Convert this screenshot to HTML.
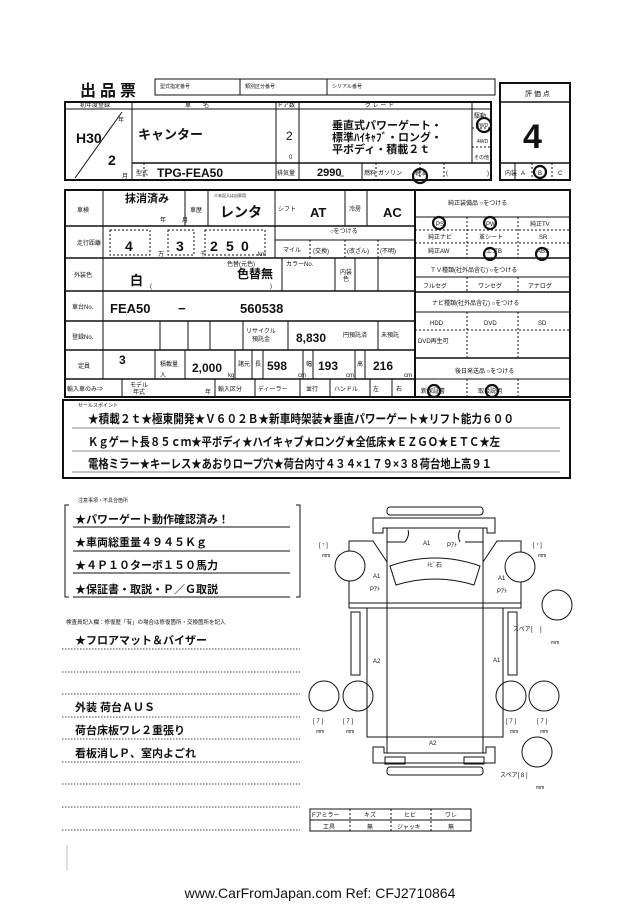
<!DOCTYPE html>
<html><head><meta charset="utf-8"><style>
html,body{margin:0;padding:0;background:#fff;width:640px;height:904px;overflow:hidden}
svg{display:block;font-family:"Liberation Sans","Noto Sans CJK JP",sans-serif}
</style></head><body>
<svg width="640" height="904" viewBox="0 0 640 904" xmlns="http://www.w3.org/2000/svg">
<g fill="none" stroke="#111" stroke-width="1">
<!-- header small boxes -->
<rect x="155" y="79" width="340" height="16"/>
<line x1="240" y1="79" x2="240" y2="95"/><line x1="327" y1="79" x2="327" y2="95"/>
<!-- score box -->
<rect x="500" y="83" width="70" height="97" stroke-width="2"/>
<line x1="500" y1="102" x2="570" y2="102" stroke-width="1.5"/>
<line x1="500" y1="163" x2="570" y2="163" stroke-width="1.5"/>
<line x1="515" y1="163" x2="515" y2="180"/><line x1="532" y1="163" x2="532" y2="180" stroke-dasharray="2,2"/><line x1="552" y1="163" x2="552" y2="180" stroke-dasharray="2,2"/>
<!-- top table -->
<rect x="65" y="102" width="426" height="78" stroke-width="2"/>
<line x1="65" y1="109" x2="491" y2="109"/>
<line x1="132" y1="102" x2="132" y2="180"/>
<line x1="276" y1="102" x2="276" y2="180"/>
<line x1="299" y1="102" x2="299" y2="163"/>
<line x1="472" y1="102" x2="472" y2="163"/>
<line x1="132" y1="163" x2="491" y2="163" stroke-width="1.5"/>
<line x1="144" y1="163" x2="144" y2="180" stroke-dasharray="2,2"/>
<line x1="299" y1="163" x2="299" y2="180"/>
<line x1="362" y1="163" x2="362" y2="180"/>
<line x1="376" y1="163" x2="376" y2="180" stroke-dasharray="2,2"/>
<line x1="420" y1="163" x2="420" y2="180" stroke-dasharray="2,2"/>
<line x1="444" y1="163" x2="444" y2="180" stroke-dasharray="2,2"/>
<line x1="472" y1="128" x2="491" y2="128" stroke-dasharray="2,2"/>
<line x1="472" y1="147" x2="491" y2="147" stroke-dasharray="2,2"/>
<line x1="75" y1="178" x2="122" y2="112"/>
<!-- main table left -->
<rect x="65" y="190" width="350" height="207" stroke-width="2"/>
<line x1="103" y1="190" x2="103" y2="379"/>
<line x1="65" y1="226" x2="415" y2="226" stroke-width="1.5"/>
<line x1="65" y1="258" x2="415" y2="258" stroke-width="1.5"/>
<line x1="65" y1="291" x2="415" y2="291" stroke-width="1.5"/>
<line x1="65" y1="321" x2="415" y2="321" stroke-width="1.5"/>
<line x1="65" y1="350" x2="415" y2="350" stroke-width="1.5"/>
<line x1="65" y1="379" x2="415" y2="379" stroke-width="1.5"/>
<line x1="185" y1="190" x2="185" y2="226"/><line x1="208" y1="190" x2="208" y2="226"/>
<line x1="275" y1="190" x2="275" y2="226"/><line x1="345" y1="190" x2="345" y2="226"/><line x1="367" y1="190" x2="367" y2="226"/>
<line x1="275" y1="226" x2="275" y2="258"/>
<line x1="275" y1="240" x2="415" y2="240"/>
<line x1="310" y1="240" x2="310" y2="258" stroke-dasharray="2,2"/><line x1="345" y1="240" x2="345" y2="258" stroke-dasharray="2,2"/><line x1="378" y1="240" x2="378" y2="258" stroke-dasharray="2,2"/>
<g stroke-dasharray="2,2"><rect x="110" y="230" width="40" height="25"/><rect x="168" y="230" width="26" height="25"/><rect x="205" y="230" width="60" height="25"/></g>
<line x1="282" y1="258" x2="282" y2="291"/><line x1="335" y1="258" x2="335" y2="291"/><line x1="355" y1="258" x2="355" y2="291"/><line x1="378" y1="258" x2="378" y2="291"/>
<line x1="160" y1="321" x2="160" y2="350"/><line x1="188" y1="321" x2="188" y2="350"/><line x1="210" y1="321" x2="210" y2="350"/><line x1="243" y1="321" x2="243" y2="350"/><line x1="288" y1="321" x2="288" y2="350"/><line x1="378" y1="321" x2="378" y2="350"/>
<line x1="155" y1="350" x2="155" y2="379"/><line x1="185" y1="350" x2="185" y2="379"/><line x1="235" y1="350" x2="235" y2="379"/><line x1="252" y1="350" x2="252" y2="379"/><line x1="263" y1="350" x2="263" y2="379"/><line x1="303" y1="350" x2="303" y2="379"/><line x1="313" y1="350" x2="313" y2="379"/><line x1="355" y1="350" x2="355" y2="379"/><line x1="365" y1="350" x2="365" y2="379"/>
<line x1="122" y1="379" x2="122" y2="397"/><line x1="215" y1="379" x2="215" y2="397"/><line x1="255" y1="379" x2="255" y2="397"/><line x1="300" y1="379" x2="300" y2="397"/><line x1="330" y1="379" x2="330" y2="397"/><line x1="370" y1="379" x2="370" y2="397"/><line x1="392" y1="379" x2="392" y2="397"/>
<!-- right block -->
<rect x="415" y="190" width="155" height="207" stroke-width="2"/>
<line x1="415" y1="217" x2="570" y2="217"/>
<line x1="415" y1="230" x2="570" y2="230" stroke-dasharray="2,2"/>
<line x1="415" y1="243" x2="570" y2="243" stroke-dasharray="2,2"/>
<line x1="415" y1="258" x2="570" y2="258" stroke-width="1.5"/>
<line x1="415" y1="277" x2="570" y2="277"/>
<line x1="415" y1="292" x2="570" y2="292" stroke-width="1.5"/>
<line x1="415" y1="312" x2="570" y2="312"/>
<line x1="415" y1="330" x2="570" y2="330" stroke-dasharray="2,2"/>
<line x1="415" y1="358" x2="570" y2="358" stroke-width="1.5"/>
<line x1="415" y1="379" x2="570" y2="379"/>
<g stroke-dasharray="2,2">
<line x1="467" y1="217" x2="467" y2="258"/><line x1="518" y1="217" x2="518" y2="258"/>
<line x1="467" y1="277" x2="467" y2="292"/><line x1="518" y1="277" x2="518" y2="292"/>
<line x1="467" y1="312" x2="467" y2="358"/><line x1="518" y1="312" x2="518" y2="358"/>
<line x1="467" y1="379" x2="467" y2="397"/><line x1="518" y1="379" x2="518" y2="397"/></g>
<!-- sales -->
<rect x="63" y="400" width="507" height="78" stroke-width="2"/>
<line x1="72" y1="428" x2="560" y2="428" stroke="#888"/><line x1="72" y1="451" x2="560" y2="451" stroke="#888"/><line x1="72" y1="472" x2="560" y2="472" stroke="#888"/>
<!-- circles marks -->
<g stroke-width="2.2"><circle cx="484" cy="125" r="7"/><circle cx="420" cy="176" r="7"/><circle cx="540" cy="172" r="6"/>
<circle cx="439" cy="223" r="6"/><circle cx="490" cy="223" r="6"/><circle cx="490" cy="254" r="6"/><circle cx="542" cy="254" r="6"/><circle cx="434" cy="391" r="6"/><circle cx="492" cy="391" r="6"/></g>
<!-- notes bracket -->
<path d="M69 505 H65 V597 H69"/><path d="M296 505 H300 V597 H296"/>
<line x1="73" y1="527" x2="290" y2="527"/><line x1="73" y1="551" x2="290" y2="551"/><line x1="73" y1="573" x2="290" y2="573"/><line x1="73" y1="597" x2="290" y2="597"/>
<g stroke-dasharray="1.5,1.5" stroke="#444"><line x1="62" y1="649" x2="300" y2="649"/><line x1="62" y1="672" x2="300" y2="672"/><line x1="62" y1="694" x2="300" y2="694"/><line x1="62" y1="717" x2="300" y2="717"/><line x1="62" y1="739" x2="300" y2="739"/><line x1="62" y1="762" x2="300" y2="762"/><line x1="62" y1="784" x2="300" y2="784"/><line x1="62" y1="807" x2="300" y2="807"/><line x1="62" y1="830" x2="300" y2="830"/></g>
<line x1="67" y1="845" x2="67" y2="870" stroke="#bbb"/>
<!-- car -->
<rect x="387" y="507" width="96" height="8" rx="3"/>
<path d="M373 518 H495 V533 H487 V528 H383 V533 H373 Z"/>
<rect x="387" y="528" width="96" height="225"/>
<line x1="387" y1="542" x2="405" y2="542"/><path d="M405 542 Q410 535 408 530"/>
<line x1="465" y1="542" x2="483" y2="542"/><path d="M460 542 Q457 536 460 530"/>
<path d="M390 566 Q435 550 480 566 L474 585 Q435 573 396 585 Z"/>
<path d="M349 541 H373 L387 562 V603 H349 Z"/>
<path d="M521 541 H497 L483 562 V603 H521 Z"/>
<line x1="349" y1="603" x2="521" y2="603"/>
<rect x="349" y="603" width="172" height="5"/>
<path d="M367 608 V737 H503 V608"/>
<rect x="351" y="612" width="9" height="63"/><rect x="508" y="612" width="9" height="63"/>
<path d="M373 747 H384 V753 H486 V747 H495 V763 H373 Z"/>
<rect x="385" y="757" width="20" height="7"/><rect x="464" y="757" width="20" height="7"/>
<rect x="387" y="767" width="96" height="8" rx="3"/>
<g fill="#fff"><circle cx="350" cy="566" r="15"/><circle cx="520" cy="567" r="15"/></g>
<circle cx="557" cy="605" r="15"/>
<circle cx="324" cy="696" r="15"/><circle cx="358" cy="696" r="15"/><circle cx="511" cy="696" r="15"/><circle cx="544" cy="696" r="15"/>
<circle cx="537" cy="752" r="15"/>
<rect x="310" y="809" width="161" height="22"/><line x1="310" y1="820" x2="471" y2="820"/>
<line x1="350" y1="809" x2="350" y2="831" stroke-dasharray="2,2"/><line x1="391" y1="809" x2="391" y2="831" stroke-dasharray="2,2"/><line x1="431" y1="809" x2="431" y2="831" stroke-dasharray="2,2"/>
</g>
<g fill="#111">
<text x="80" y="96" font-size="16" font-weight="bold" letter-spacing="4">出品票</text>
<g font-size="5"><text x="160" y="88">型式指定番号</text><text x="245" y="88">類別区分番号</text><text x="332" y="88">シリアル番号</text></g>
<text x="525" y="96" font-size="7">評 価 点</text>
<text x="523" y="148" font-size="34" font-weight="bold">4</text>
<g font-size="6"><text x="505" y="175">内装</text><text x="521" y="175">A</text><text x="538" y="175">B</text><text x="558" y="175">C</text></g>
<g font-size="6"><text x="80" y="107">初年度登録</text><text x="185" y="107">車　　名</text><text x="277" y="107">ドア数</text><text x="365" y="107">グ レ ー ド</text><text x="474" y="118">駆動</text><text x="477" y="127" font-size="5">2WD</text><text x="477" y="143" font-size="5">4WD</text><text x="474" y="159" font-size="5">その他</text>
<text x="118" y="122">年</text><text x="122" y="178">月</text><text x="136" y="175">型式</text><text x="277" y="175">排気量</text><text x="340" y="177" font-size="4">cc</text><text x="364" y="175">燃料</text><text x="378" y="175">ガソリン</text><text x="415" y="175">軽油</text><text x="446" y="175">(</text><text x="487" y="175">)</text></g>
<text x="76" y="143" font-size="14" font-weight="bold">H30</text>
<text x="108" y="165" font-size="14" font-weight="bold">2</text>
<text x="138" y="139" font-size="13" font-weight="bold">キャンター</text>
<text x="286" y="140" font-size="12">2</text><text x="289" y="159" font-size="6">0</text>
<g font-size="11" font-weight="bold"><text x="332" y="129">垂直式パワーゲート・</text><text x="332" y="141">標準ﾊｲｷｬﾌﾞ・ロング・</text><text x="332" y="153">平ボディ・積載２ｔ</text></g>
<text x="157" y="177" font-size="12" font-weight="bold">TPG-FEA50</text>
<text x="317" y="176" font-size="11" font-weight="bold">2990</text>
<g font-size="6">
<text x="77" y="212">車検</text><text x="77" y="245">走行距離</text><text x="74" y="277">外装色</text><text x="72" y="309">車台No.</text><text x="72" y="339">登録No.</text><text x="78" y="368">定員</text><text x="67" y="391">輸入車のみ⇒</text>
<text x="160" y="222">年</text><text x="182" y="222">月</text><text x="190" y="212">車歴</text><text x="214" y="197" font-size="4">※未記入は自家用</text><text x="278" y="211">シフト</text><text x="349" y="211">冷房</text>
<text x="330" y="233">○をつける</text><text x="283" y="252">マイル</text><text x="313" y="253">(交換)</text><text x="347" y="253">(改ざん)</text><text x="380" y="253">(不明)</text>
<text x="158" y="256">万</text><text x="200" y="256">千</text><text x="258" y="256">km</text>
<text x="227" y="266">色替(元色)</text><text x="150" y="288">(</text><text x="270" y="288">)</text><text x="286" y="266">カラーNo.</text><text x="340" y="274">内装</text><text x="343" y="281">色</text>
<text x="246" y="333">リサイクル</text><text x="252" y="341">預託金</text><text x="343" y="337">円預託済</text><text x="381" y="337">未預託</text>
<text x="160" y="377">人</text><text x="160" y="366">積載量</text><text x="228" y="377">kg</text><text x="238" y="366">諸元</text><text x="255" y="366">長</text><text x="298" y="377">cm</text><text x="306" y="366">幅</text><text x="346" y="377">cm</text><text x="357" y="366">高</text><text x="404" y="377">cm</text>
<text x="130" y="387">モデル</text><text x="133" y="394">年式</text><text x="205" y="394">年</text><text x="218" y="391">輸入区分</text><text x="258" y="391">ディーラー</text><text x="306" y="391">並行</text><text x="334" y="391">ハンドル</text><text x="373" y="391">左</text><text x="396" y="391">右</text>
<text x="448" y="205">純正装備品 ○をつける</text><text x="436" y="226">PS</text><text x="486" y="226">PW</text><text x="530" y="226">純正TV</text>
<text x="428" y="239">純正ナビ</text><text x="479" y="239">革シート</text><text x="539" y="239">SR</text>
<text x="428" y="253">純正AW</text><text x="486" y="253">エアB</text><text x="537" y="253">ABS</text>
<text x="430" y="272">ＴＶ種類(社外品含む) ○をつける</text><text x="423" y="288">フルセグ</text><text x="478" y="288">ワンセグ</text><text x="528" y="288">アナログ</text>
<text x="432" y="305">ナビ種類(社外品含む) ○をつける</text><text x="430" y="325">HDD</text><text x="484" y="325">DVD</text><text x="538" y="325">SD</text><text x="418" y="343">DVD再生可</text>
<text x="455" y="373">後日発送品 ○をつける</text><text x="421" y="393">新保証書</text><text x="478" y="393">取扱説明</text>
</g>
<g font-size="11" font-weight="bold"><text x="125" y="202">抹消済み</text><text x="220" y="217" font-size="14">レンタ</text><text x="310" y="217" font-size="13">AT</text><text x="383" y="217" font-size="13">AC</text>
<text x="125" y="251" font-size="14">4</text><text x="176" y="251" font-size="14">3</text><text x="210" y="251" font-size="14">2</text><text x="226" y="251" font-size="14">5</text><text x="241" y="251" font-size="14">0</text>
<text x="130" y="285" font-size="13">白</text><text x="237" y="278" font-size="12">色替無</text>
<text x="110" y="313" font-size="13">FEA50</text><text x="178" y="313" font-size="13">−</text><text x="240" y="313" font-size="13">560538</text>
<text x="296" y="342" font-size="12">8,830</text><text x="119" y="364" font-size="12">3</text><text x="192" y="372" font-size="12">2,000</text><text x="267" y="370" font-size="12">598</text><text x="318" y="370" font-size="12">193</text><text x="373" y="370" font-size="12">216</text></g>
<text x="78" y="407" font-size="5">セールスポイント</text>
<g font-size="12" font-weight="bold"><text x="88" y="423" textLength="426" lengthAdjust="spacingAndGlyphs">★積載２ｔ★極東開発★Ｖ６０２Ｂ★新車時架装★垂直パワーゲート★リフト能力６００</text>
<text x="88" y="446" textLength="412" lengthAdjust="spacingAndGlyphs">Ｋｇゲート長８５ｃｍ★平ボディ★ハイキャブ★ロング★全低床★ＥＺＧＯ★ＥＴＣ★左</text>
<text x="88" y="468" textLength="404" lengthAdjust="spacingAndGlyphs">電格ミラー★キーレス★あおりロープ穴★荷台内寸４３４×１７９×３８荷台地上高９１</text></g>
<text x="78" y="502" font-size="5">注意事項・不具合箇所</text>
<g font-size="11" font-weight="bold"><text x="75" y="523">★パワーゲート動作確認済み！</text><text x="75" y="546">★車両総重量４９４５Ｋｇ</text><text x="75" y="569">★４Ｐ１０ターボ１５０馬力</text><text x="75" y="593">★保証書・取説・Ｐ／Ｇ取説</text>
<text x="75" y="644">★フロアマット＆バイザー</text><text x="75" y="711">外装 荷台ＡＵＳ</text><text x="75" y="734">荷台床板ワレ２重張り</text><text x="75" y="757">看板消しＰ、室内よごれ</text></g>
<text x="66" y="624" font-size="5.5">検査員記入欄：修復歴「有」の場合は修復箇所・交換箇所を記入</text>
<g font-size="6"><text x="423" y="545">A1</text><text x="447" y="547">Pｱﾄ</text><text x="427" y="567">ﾄﾋﾞ石</text><text x="373" y="578">A1</text><text x="370" y="591">Pｱﾄ</text><text x="498" y="580">A1</text><text x="497" y="593">Pｱﾄ</text><text x="373" y="663">A2</text><text x="493" y="662">A1</text><text x="429" y="745">A2</text>
<text x="319" y="547">[ ⁷ ]</text><text x="322" y="557" font-size="5">mm</text><text x="533" y="547">[ ⁷ ]</text><text x="538" y="557" font-size="5">mm</text>
<text x="513" y="631">スペア[　 ]</text><text x="551" y="644" font-size="5">mm</text>
<text x="313" y="723">[ 7 ]</text><text x="316" y="733" font-size="5">mm</text><text x="343" y="723">[ 7 ]</text><text x="346" y="733" font-size="5">mm</text><text x="506" y="723">[ 7 ]</text><text x="510" y="733" font-size="5">mm</text><text x="537" y="723">[ 7 ]</text><text x="540" y="733" font-size="5">mm</text>
<text x="500" y="777">スペア[ 8 ]</text><text x="536" y="789" font-size="5">mm</text>
<text x="312" y="817">Fアミラー</text><text x="364" y="817">キズ</text><text x="404" y="817">ヒビ</text><text x="445" y="817">ワレ</text>
<text x="323" y="829">工具</text><text x="367" y="829">無</text><text x="397" y="829">ジャッキ</text><text x="448" y="829">無</text></g>
<text x="320" y="898" font-size="14" text-anchor="middle">www.CarFromJapan.com Ref: CFJ2710864</text>
</g>
</svg>
</body></html>
